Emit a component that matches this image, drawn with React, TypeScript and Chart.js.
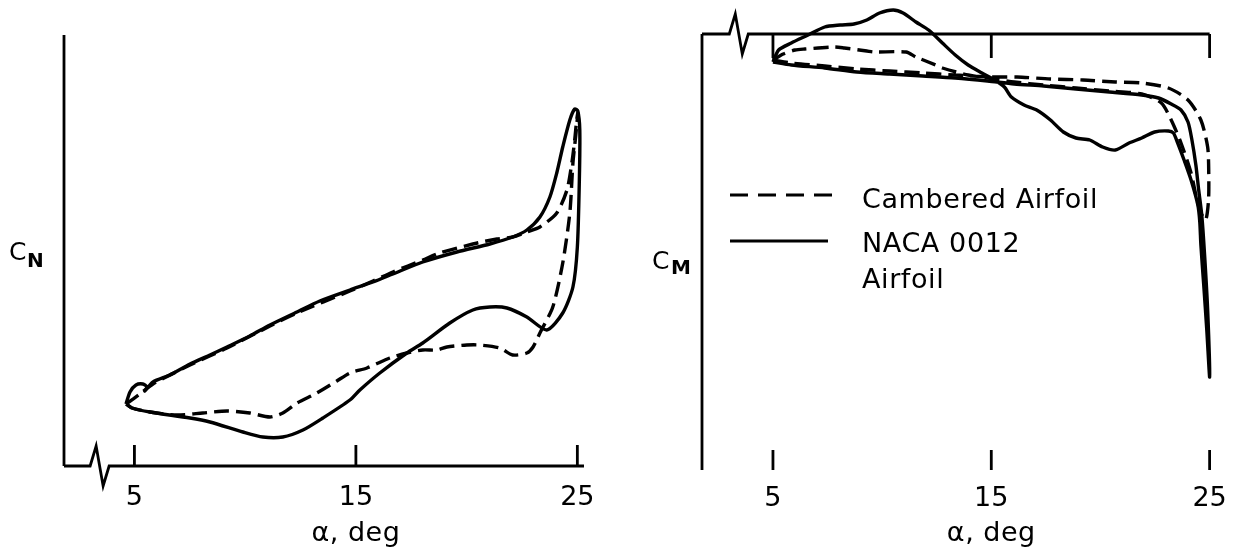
import React, { useEffect, useRef } from "react";
import { Chart, registerables } from "chart.js";

Chart.register(...registerables);

const FONT = "'DejaVu Sans', 'Liberation Sans', sans-serif";

// ---- shared axis data ----
const alphaTicks = [5, 15, 25];
const alphaTitle = "α, deg";
const seriesLabels = ["Cambered Airfoil", "NACA 0012", "Airfoil"];

// ---- Left panel: normal-force coefficient C_N vs alpha ----
const cnNacaAlpha = [4.62, 4.8, 5.07, 5.38, 5.56, 5.47, 5.84, 6.6, 7.51, 8.41, 9.18, 10.21, 11.12, 12.34, 13.37, 14.73, 15.77, 16.67, 18.02, 19.56, 21.05, 22.08, 22.72, 23.31, 23.76, 24.07, 24.34, 24.66, 24.88, 25.02, 25.11, 25.09, 25.0, 24.8, 24.34, 23.62, 22.72, 21.82, 21.05, 20.28, 19.24, 18.02, 17.3, 16.08, 15.18, 14.73, 13.51, 12.61, 11.7, 10.8, 9.9, 8.41, 7.51, 5.7, 4.89, 4.62];
const cnNacaValue = [0.31, 0.37, 0.405, 0.41, 0.395, 0.375, 0.42, 0.455, 0.51, 0.555, 0.595, 0.65, 0.705, 0.77, 0.825, 0.88, 0.92, 0.96, 1.02, 1.07, 1.11, 1.145, 1.18, 1.245, 1.345, 1.465, 1.595, 1.73, 1.785, 1.775, 1.68, 1.43, 1.095, 0.895, 0.765, 0.68, 0.745, 0.79, 0.795, 0.78, 0.715, 0.615, 0.565, 0.465, 0.38, 0.33, 0.24, 0.18, 0.145, 0.145, 0.17, 0.22, 0.24, 0.27, 0.29, 0.31];

const cnCamberAlpha = [4.62, 5.25, 5.84, 7.51, 9.18, 11.12, 12.34, 14.73, 15.77, 16.67, 18.02, 18.79, 20.28, 21.37, 22.08, 22.72, 23.31, 24.07, 24.53, 24.75, 24.88, 24.97, 25.02, 24.93, 24.8, 24.66, 24.34, 23.89, 23.31, 23.0, 22.72, 22.08, 21.5, 20.6, 20.01, 19.11, 18.66, 18.02, 17.3, 16.53, 15.5, 14.73, 14.14, 13.24, 12.34, 11.7, 11.12, 10.21, 9.18, 8.09, 6.92, 5.7, 4.89, 4.62];
const cnCamberValue = [0.31, 0.36, 0.41, 0.505, 0.59, 0.7, 0.765, 0.875, 0.925, 0.97, 1.03, 1.065, 1.11, 1.135, 1.145, 1.17, 1.195, 1.265, 1.38, 1.515, 1.63, 1.73, 1.765, 1.655, 1.515, 1.265, 1.015, 0.795, 0.665, 0.595, 0.565, 0.555, 0.59, 0.605, 0.605, 0.595, 0.58, 0.58, 0.565, 0.54, 0.49, 0.465, 0.425, 0.365, 0.315, 0.265, 0.245, 0.265, 0.275, 0.265, 0.255, 0.27, 0.29, 0.31];

// ---- Right panel: pitching-moment coefficient C_M vs alpha ----
const cmNacaAlpha = [5.0, 5.84, 7.37, 8.85, 10.34, 11.87, 13.35, 14.83, 16.05, 17.4, 18.88, 20.41, 21.89, 22.66, 23.24, 23.69, 24.01, 24.19, 24.37, 24.5, 24.64, 24.77, 24.91, 25.0, 24.87, 24.73, 24.6, 24.55, 24.46, 24.15, 23.83, 23.52, 23.34, 23.11, 22.48, 21.89, 21.31, 20.68, 20.1, 19.51, 18.88, 18.3, 17.71, 17.08, 16.5, 15.92, 15.6, 15.15, 14.57, 13.94, 13.35, 12.76, 12.13, 11.55, 10.96, 10.51, 9.88, 9.3, 8.71, 8.08, 7.37, 6.61, 5.84, 5.26, 5.0];
const cmNacaValue = [-0.028, -0.031, -0.034, -0.038, -0.04, -0.042, -0.044, -0.047, -0.05, -0.052, -0.055, -0.058, -0.061, -0.064, -0.07, -0.076, -0.088, -0.106, -0.131, -0.156, -0.181, -0.221, -0.276, -0.343, -0.296, -0.251, -0.211, -0.188, -0.171, -0.146, -0.126, -0.108, -0.099, -0.097, -0.098, -0.104, -0.109, -0.116, -0.113, -0.106, -0.104, -0.098, -0.086, -0.076, -0.071, -0.063, -0.053, -0.046, -0.039, -0.031, -0.021, -0.009, 0.004, 0.012, 0.021, 0.024, 0.021, 0.014, 0.01, 0.009, 0.007, -0.001, -0.009, -0.016, -0.028];

const cmCamberAlpha = [5.0, 5.84, 7.37, 8.85, 10.34, 11.87, 13.35, 15.01, 16.18, 17.71, 19.2, 20.68, 21.89, 23.11, 24.01, 24.6, 24.91, 24.96, 24.95, 24.82, 24.6, 24.42, 24.15, 23.69, 23.24, 22.79, 21.89, 20.41, 18.88, 17.4, 16.05, 15.15, 13.94, 12.76, 12.45, 11.55, 11.1, 9.61, 9.3, 8.27, 7.81, 6.46, 6.01, 5.47, 5.0];
const cmCamberValue = [-0.026, -0.029, -0.032, -0.035, -0.037, -0.039, -0.041, -0.043, -0.043, -0.045, -0.046, -0.048, -0.049, -0.054, -0.066, -0.086, -0.113, -0.139, -0.166, -0.186, -0.179, -0.166, -0.139, -0.109, -0.086, -0.069, -0.06, -0.057, -0.054, -0.051, -0.048, -0.045, -0.041, -0.034, -0.031, -0.023, -0.018, -0.018, -0.017, -0.014, -0.013, -0.015, -0.016, -0.02, -0.026];

// ---- helpers ----
function toPoints(alpha: number[], values: number[]) {
  const n = Math.min(alpha.length, values.length);
  const pts: { x: number; y: number }[] = [];
  for (let i = 0; i < n; i++) pts.push({ x: alpha[i], y: values[i] });
  return pts;
}

const CURVE_DASH = [15, 7];

function makeDataset(label: string, alpha: number[], values: number[], dashed: boolean) {
  return {
    label,
    data: toPoints(alpha, values),
    showLine: true,
    borderColor: "#000",
    backgroundColor: "#000",
    borderWidth: 3.4,
    borderDash: dashed ? CURVE_DASH : [],
    borderJoinStyle: "round",
    borderCapStyle: "butt",
    pointRadius: 0,
    pointHoverRadius: 0,
    tension: 0.25,
    fill: false,
    clip: false,
  };
}

type DecorCfg = {
  breakAlpha: number;
  hAxisEnd: number;
  vFrom: "max" | "zero";
  vTo: "zero" | "min";
  tickDir: number;
  tickLen: number;
  bottomTicks: boolean;
  sub: string;
  cx: number;
  cy: number;
  sx: number;
  sy: number;
  legend: boolean;
};

function makeDecor(cfg: DecorCfg) {
  return {
    id: "decor",
    afterDraw(chart: any) {
      const { ctx, chartArea: ca } = chart;
      const xs = chart.scales.x;
      const ys = chart.scales.y;
      ctx.save();
      ctx.strokeStyle = "#000";
      ctx.fillStyle = "#000";
      ctx.lineWidth = 2.8;
      ctx.lineJoin = "miter";
      ctx.lineCap = "butt";
      ctx.setLineDash([]);

      const hY = ys.getPixelForValue(0);
      const axX = ca.left;
      ctx.beginPath();
      ctx.moveTo(axX, cfg.vFrom === "max" ? ys.getPixelForValue(ys.max) : hY);
      ctx.lineTo(axX, cfg.vTo === "zero" ? hY : ys.getPixelForValue(ys.min));
      ctx.stroke();

      const xb = xs.getPixelForValue(cfg.breakAlpha);
      ctx.beginPath();
      ctx.moveTo(axX, hY);
      ctx.lineTo(xb, hY);
      ctx.lineTo(xb + 6, hY - 20);
      ctx.lineTo(xb + 13, hY + 20);
      ctx.lineTo(xb + 19, hY);
      ctx.lineTo(xs.getPixelForValue(cfg.hAxisEnd), hY);
      ctx.stroke();

      for (const v of alphaTicks) {
        const px = xs.getPixelForValue(v);
        ctx.beginPath();
        ctx.moveTo(px, hY);
        ctx.lineTo(px, hY + cfg.tickDir * cfg.tickLen);
        ctx.stroke();
        if (cfg.bottomTicks) {
          ctx.beginPath();
          ctx.moveTo(px, ca.bottom);
          ctx.lineTo(px, ca.bottom - 20);
          ctx.stroke();
        }
      }

      ctx.textAlign = "center";
      ctx.textBaseline = "alphabetic";
      ctx.font = `27px ${FONT}`;
      (ctx as any).letterSpacing = "0.5px";
      ctx.fillText(alphaTitle, xs.getPixelForValue(15), 541);
      (ctx as any).letterSpacing = "0px";

      ctx.textAlign = "left";
      ctx.font = `25px ${FONT}`;
      ctx.fillText("C", cfg.cx, cfg.cy);
      ctx.font = `bold 20px ${FONT}`;
      ctx.fillText(cfg.sub, cfg.sx, cfg.sy);

      if (cfg.legend) {
        ctx.lineWidth = 2.8;
        ctx.setLineDash([18, 10]);
        ctx.beginPath();
        ctx.moveTo(110, 195);
        ctx.lineTo(212, 195);
        ctx.stroke();
        ctx.setLineDash([]);
        ctx.beginPath();
        ctx.moveTo(110, 241);
        ctx.lineTo(208, 241);
        ctx.stroke();
        ctx.font = `27px ${FONT}`;
        (ctx as any).letterSpacing = "0.6px";
        ctx.fillText(seriesLabels[0], 242, 208);
        ctx.fillText(seriesLabels[1], 242, 252);
        ctx.fillText(seriesLabels[2], 242, 288);
      }
      ctx.restore();
    },
  };
}

type ChartCfg = {
  datasets: any[];
  xMin: number;
  xMax: number;
  yMin: number;
  yMax: number;
  padding: { top: number; right: number; left: number; bottom: number };
  xAxisHeight: number;
  yAxisWidth: number;
  tickPad: number;
  decor: DecorCfg;
};

function buildConfig(cfg: ChartCfg): any {
  return {
    type: "scatter",
    data: { datasets: cfg.datasets },
    plugins: [makeDecor(cfg.decor)],
    options: {
      responsive: false,
      animation: false,
      devicePixelRatio: 1,
      events: [],
      layout: { padding: cfg.padding },
      plugins: { legend: { display: false }, tooltip: { enabled: false } },
      scales: {
        x: {
          type: "linear",
          min: cfg.xMin,
          max: cfg.xMax,
          afterBuildTicks: (s: any) => {
            s.ticks = alphaTicks.map((v) => ({ value: v }));
          },
          afterFit: (s: any) => {
            s.height = cfg.xAxisHeight;
          },
          ticks: {
            autoSkip: false,
            maxRotation: 0,
            minRotation: 0,
            padding: cfg.tickPad,
            color: "#000",
            font: { family: FONT, size: 27 },
            callback: (v: any) => String(v),
          },
          grid: { display: false, drawTicks: false },
          border: { display: false },
        },
        y: {
          type: "linear",
          min: cfg.yMin,
          max: cfg.yMax,
          afterFit: (s: any) => {
            s.width = cfg.yAxisWidth;
          },
          ticks: { display: false },
          grid: { display: false, drawTicks: false },
          border: { display: false },
        },
      },
    },
  };
}

const leftCfg: ChartCfg = {
  datasets: [
    makeDataset(seriesLabels[0], cnCamberAlpha, cnCamberValue, true),
    makeDataset("NACA 0012 Airfoil", cnNacaAlpha, cnNacaValue, false),
  ],
  xMin: 1.82,
  xMax: 25.3,
  yMin: 0,
  yMax: 2.155,
  padding: { top: 35, right: 36, left: 0, bottom: 0 },
  xAxisHeight: 90,
  yAxisWidth: 64,
  tickPad: 16,
  decor: {
    breakAlpha: 3.0,
    hAxisEnd: 25.3,
    vFrom: "max",
    vTo: "zero",
    tickDir: -1,
    tickLen: 21,
    bottomTicks: false,
    sub: "N",
    cx: 9,
    cy: 260,
    sx: 27,
    sy: 267,
    legend: false,
  },
};

const rightCfg: ChartCfg = {
  datasets: [
    makeDataset(seriesLabels[0], cmCamberAlpha, cmCamberValue, true),
    makeDataset("NACA 0012 Airfoil", cmNacaAlpha, cmNacaValue, false),
  ],
  xMin: 1.75,
  xMax: 25.4,
  yMin: -0.436,
  yMax: 0.029,
  padding: { top: 5, right: 12, left: 0, bottom: 0 },
  xAxisHeight: 86,
  yAxisWidth: 82,
  tickPad: 13,
  decor: {
    breakAlpha: 3.0,
    hAxisEnd: 25,
    vFrom: "zero",
    vTo: "min",
    tickDir: 1,
    tickLen: 24,
    bottomTicks: true,
    sub: "M",
    cx: 32,
    cy: 269,
    sx: 51,
    sy: 274,
    legend: true,
  },
};

function ChartCanvas({ cfg }: { cfg: ChartCfg }) {
  const ref = useRef<HTMLCanvasElement | null>(null);
  useEffect(() => {
    if (!ref.current) return;
    const chart = new Chart(ref.current, buildConfig(cfg));
    return () => chart.destroy();
  }, [cfg]);
  return (
    <canvas
      ref={ref}
      width={620}
      height={556}
      style={{ display: "block", width: 620, height: 556 }}
    />
  );
}

export default function App() {
  return (
    <div
      style={{
        position: "fixed",
        left: 0,
        top: 0,
        width: 1240,
        height: 556,
        background: "#fff",
        display: "flex",
        overflow: "hidden",
      }}
    >
      <ChartCanvas cfg={leftCfg} />
      <ChartCanvas cfg={rightCfg} />
    </div>
  );
}
